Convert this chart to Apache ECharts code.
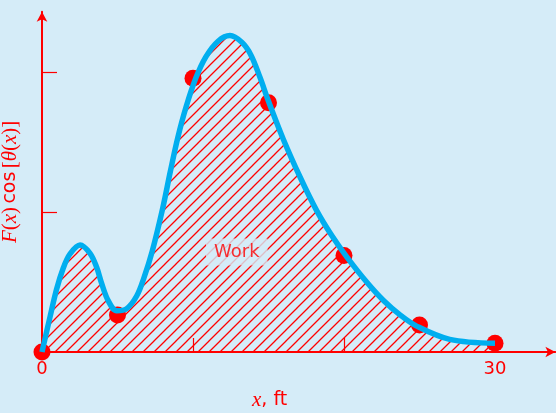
<!DOCTYPE html>
<html>
<head>
<meta charset="utf-8">
<script src="https://cdn.jsdelivr.net/npm/echarts@6/dist/echarts.min.js"></script>
<style>
html,body{margin:0;padding:0;background:#d5ecf8;}
#c{width:556px;height:413px;}
</style>
</head>
<body>
<div id="c"></div>
<script>
// Measured data points (x in ft, y = F(x) cos[θ(x)] in tick units)
const pointX = [0, 5, 10, 15, 20, 25, 30];
const pointY = [0, 0.265, 1.955, 1.78, 0.69, 0.193, 0.062];
// Smooth fitted curve
const curveX = [0, 0.53, 0.97, 1.41, 1.85, 2.52, 3.18, 3.62, 3.95, 4.39, 4.95, 5.61, 6.27, 6.75, 7.3, 8.0, 8.5, 8.99, 9.54, 10.2, 10.86, 11.66, 12.45, 13.25, 13.84, 14.44, 14.97, 15.98, 17.09, 18.19, 19.2, 20.18, 21.5, 22.6, 23.71, 24.81, 27.0, 30.0];
const curveY = [0, 0.25, 0.45, 0.60, 0.70, 0.765, 0.705, 0.605, 0.49, 0.365, 0.295, 0.31, 0.40, 0.53, 0.72, 1.03, 1.29, 1.53, 1.75, 1.96, 2.11, 2.22, 2.26, 2.21, 2.12, 1.96, 1.80, 1.52, 1.25, 1.01, 0.83, 0.68, 0.50, 0.37, 0.265, 0.185, 0.09, 0.062];
const xTickValues = [10, 20];
const xLabelValues = [0, 30];
const yTickValues = [1, 2];
const workLabel = {x: 12.9, y: 0.714, text: 'Work'};

const RED = '#ff0000', BLUE = '#00aeef', BG = '#d5ecf8';

// hatch pattern
const pc = document.createElement('canvas');
pc.width = 11; pc.height = 11;
const g = pc.getContext('2d');
g.strokeStyle = RED; g.lineWidth = 1.3;
g.beginPath();
g.moveTo(-1, 12); g.lineTo(12, -1);
g.moveTo(-2, 2); g.lineTo(2, -2);
g.moveTo(9, 13); g.lineTo(13, 9);
g.stroke();

const chart = echarts.init(document.getElementById('c'));
chart.setOption({
  backgroundColor: BG,
  animation: false,
  grid: {left: 42, right: 0.6, top: 11.8, bottom: 61, containLabel: false, outerBoundsMode: 'none'},
  xAxis: {
    type: 'value', min: 0, max: 34, interval: 10,
    axisLine: {lineStyle: {color: RED, width: 2}, symbol: ['none', 'arrow'], symbolSize: [8, 10]},
    axisTick: {show: true, inside: true, length: 14, lineStyle: {color: RED, width: 1.2}, customValues: xTickValues},
    axisLabel: {color: RED, fontSize: 18, fontFamily: 'DejaVu Sans', margin: 8, customValues: xLabelValues},
    splitLine: {show: false}
  },
  yAxis: {
    type: 'value', min: 0, max: 2.43, interval: 1,
    axisLine: {show: true, lineStyle: {color: RED, width: 2}, symbol: ['none', 'arrow'], symbolSize: [8, 10]},
    axisTick: {show: true, inside: true, length: 15, lineStyle: {color: RED, width: 1.2}, customValues: yTickValues},
    axisLabel: {show: false},
    splitLine: {show: false},
    name: '{i|F}{s|(}{i|x}{s|)} {a|cos} {s|[}{i|θ}{s|(}{i|x}{s|)]}',
    nameLocation: 'middle', nameRotate: 90, nameGap: 21,
    nameTextStyle: {
      color: RED,
      rich: {
        i: {fontFamily: 'Liberation Serif', fontStyle: 'italic', fontSize: 21, color: RED},
        s: {fontFamily: 'Liberation Serif', fontSize: 21, color: RED},
        a: {fontFamily: 'DejaVu Sans', fontSize: 19, color: RED}
      }
    }
  },
  graphic: [{
    type: 'text', left: 252, top: 390,
    style: {
      text: '{i|x}{s|, ft}',
      rich: {
        i: {fontFamily: 'Liberation Serif', fontStyle: 'italic', fontSize: 21, fill: RED},
        s: {fontFamily: 'DejaVu Sans', fontSize: 19, fill: RED}
      }
    }
  }],
  series: [
    {
      type: 'scatter', z: 2,
      data: pointX.map((x, i) => [x, pointY[i]]),
      symbolSize: 17,
      itemStyle: {color: RED, opacity: 1},
      clip: false
    },
    {
      type: 'line', z: 3,
      data: curveX.map((x, i) => [x, curveY[i]]),
      smooth: 0.35,
      showSymbol: false,
      lineStyle: {color: BLUE, width: 5.5},
      areaStyle: {color: {image: pc, repeat: 'repeat'}, opacity: 1},
      clip: false
    },
    {
      type: 'scatter', z: 4,
      data: [[workLabel.x, workLabel.y]],
      symbolSize: 1,
      itemStyle: {color: 'rgba(0,0,0,0)'},
      label: {
        show: true, position: 'inside', formatter: workLabel.text,
        color: RED, fontSize: 18, fontFamily: 'DejaVu Sans',
        backgroundColor: BG, padding: [5, 8, 4, 8]
      }
    }
  ]
});
</script>
</body>
</html>
